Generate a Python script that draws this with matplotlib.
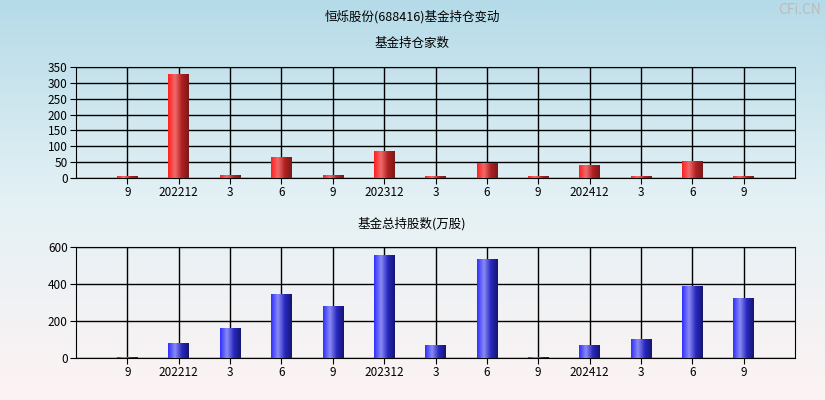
import matplotlib
matplotlib.use("Agg")
import matplotlib.pyplot as plt
import numpy as np
from matplotlib.colors import LinearSegmentedColormap

plt.rcParams['font.family'] = ['Noto Sans CJK SC', 'DejaVu Sans']

labels = ["9", "202212", "3", "6", "9", "202312", "3", "6", "9", "202412", "3", "6", "9"]
funds = [5, 327, 8, 65, 8, 82, 5, 45, 5, 38, 5, 52, 5]
shares = [3, 80, 160, 345, 280, 555, 65, 535, 3, 70, 100, 385, 320]

W, H = 825, 400
fig = plt.figure(figsize=(W/100, H/100), dpi=100)
bg = fig.add_axes([0, 0, 1, 1], zorder=-10)
grad = np.linspace(0, 1, 256).reshape(-1, 1)
bgcmap = LinearSegmentedColormap.from_list("bg", ["#b5dbe8", "#e4f1f5", "#fdf3f3"])
bg.imshow(grad, aspect="auto", cmap=bgcmap, extent=[0, 1, 0, 1], origin="upper")
bg.axis("off")

fig.text(412/W, 1-17/H, "恒烁股份(688416)基金持仓变动", ha="center", va="center", fontsize=9)
fig.text(412/W, 1-43/H, "基金持仓家数", ha="center", va="center", fontsize=9)
fig.text(412/W, 1-224/H, "基金总持股数(万股)", ha="center", va="center", fontsize=9)
fig.text(800/W, 1-10/H, "CFi.CN", ha="center", va="center", fontsize=10, color="#bbbbbb")

red = LinearSegmentedColormap.from_list("r", ["#ff2020", "#f06a6a", "#b02020", "#7a1a1a"])
blue = LinearSegmentedColormap.from_list("b", ["#3030ff", "#8a8af5", "#2828c0", "#151570"])

def panel(rect, vals, ylim, ticks, cmap):
    ax = fig.add_axes(rect)
    ax.set_facecolor("none")
    x = np.arange(len(vals))
    bars = ax.bar(x, vals, width=0.4, color="none", zorder=3)
    g = np.linspace(0, 1, 64).reshape(1, -1)
    for b in bars:
        x0, w, h = b.get_x(), b.get_width(), b.get_height()
        ax.imshow(g, cmap=cmap, aspect="auto", extent=[x0, x0+w, 0, h], zorder=3)
    ax.set_xlim(-1, len(vals))
    ax.set_ylim(*ylim)
    ax.set_yticks(ticks)
    ax.set_xticks(x)
    ax.set_xticklabels(labels)
    ax.grid(True, color="black", lw=1, zorder=1)
    ax.tick_params(labelsize=8.5, length=4, pad=2)
    for s in ax.spines.values():
        s.set_color("black")
    return ax

panel([76/W, 1-178/H, 719/W, 111/H], funds, (0, 350), range(0, 351, 50), red)
panel([76/W, 1-358/H, 719/W, 111/H], shares, (0, 600), range(0, 601, 200), blue)

fig.savefig("out.png", dpi=100)
